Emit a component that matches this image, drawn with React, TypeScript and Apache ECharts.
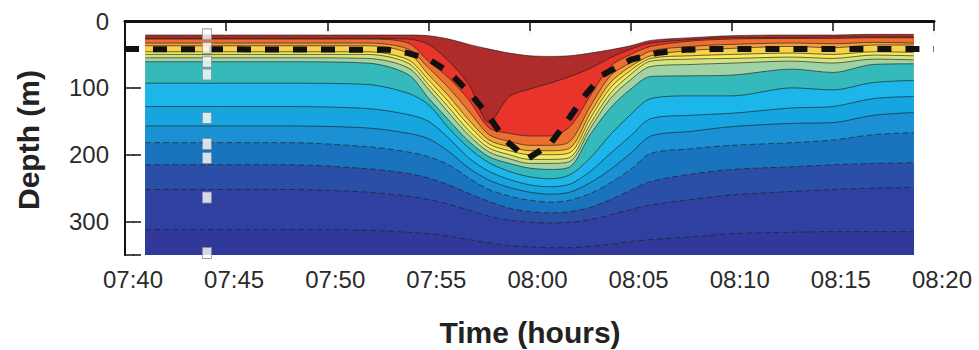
import React, { useEffect, useRef } from 'react';
import * as echarts from 'echarts';

// Tick labels of the time axis (minutes after 07:40, every 5 minutes)
const tickLabels = ['07:40', '07:45', '07:50', '07:55', '08:00', '08:05', '08:10', '08:15', '08:20'];

// Sample times of the contoured profiles (minutes after 07:40)
const times = [1, 8, 12, 14, 15, 16, 17, 18, 19, 20, 21, 22, 23, 24, 25, 26, 28, 30, 33, 35, 37, 39];

// Depth (m) of each contour line, from the warmest (top edge) to the coldest
const L0 = [21, 21, 21, 21, 22, 27, 35, 42, 48, 52, 53, 52, 48, 43, 37, 29, 25, 22, 21, 21, 20, 20];
const L1 = [26, 26, 26, 27, 35, 60, 95, 152, 113, 102, 93, 83, 71, 55, 42, 33, 28, 25, 25, 24, 24, 24];
const L2 = [27, 27, 27, 33, 60, 85, 118, 160, 168, 172, 172, 158, 112, 68, 50, 38, 30, 27, 26, 26, 25, 25];
const L3 = [33, 33, 33, 42, 70, 100, 135, 170, 180, 186, 186, 180, 128, 82, 62, 45, 38, 35, 33, 34, 32, 33];
const L4 = [37, 37, 37, 48, 80, 112, 148, 178, 188, 194, 194, 190, 138, 92, 68, 52, 44, 41, 38, 40, 36, 36];
const L5 = [46, 46, 46, 58, 88, 121, 156, 184, 194, 200, 200, 197, 146, 100, 74, 56, 52, 50, 48, 50, 46, 47];
const L6 = [50, 50, 50, 63, 95, 129, 164, 190, 200, 207, 207, 204, 154, 108, 80, 60, 57, 56, 54, 56, 51, 52];
const L7 = [55, 55, 56, 70, 102, 137, 171, 196, 206, 213, 213, 210, 161, 116, 88, 68, 65, 63, 60, 63, 57, 58];
const L8 = [61, 61, 63, 80, 115, 148, 180, 203, 213, 220, 222, 218, 170, 130, 102, 83, 82, 81, 72, 77, 65, 64];
const L9 = [93, 93, 95, 108, 125, 160, 190, 212, 225, 233, 236, 230, 205, 170, 140, 116, 112, 112, 100, 103, 92, 89];
const L10 = [128, 128, 131, 140, 150, 175, 205, 225, 237, 245, 248, 244, 225, 198, 172, 146, 141, 138, 130, 128, 116, 113];
const L11 = [157, 157, 160, 168, 176, 195, 220, 238, 249, 256, 259, 256, 242, 222, 198, 172, 165, 158, 153, 152, 141, 137];
const L12 = [182, 182, 188, 196, 203, 215, 235, 252, 262, 268, 271, 268, 258, 242, 222, 198, 191, 186, 182, 178, 170, 167];
const L13 = [215, 215, 221, 228, 235, 245, 258, 270, 280, 285, 287, 285, 279, 267, 253, 240, 229, 222, 218, 215, 213, 212];
const L14 = [252, 252, 256, 262, 267, 274, 283, 292, 298, 301, 302, 301, 297, 290, 282, 275, 267, 260, 255, 252, 250, 249];
const L15 = [312, 312, 313, 316, 318, 322, 327, 332, 336, 338, 339, 339, 337, 334, 330, 327, 323, 318, 316, 315, 315, 315];

const isolines = [L0, L1, L2, L3, L4, L5, L6, L7, L8, L9, L10, L11, L12, L13, L14, L15];

// Fill colour of the band below each contour line
const bandColors = [
  '#b02c2a', '#e9342c', '#ec6e30', '#f2a03c', '#f8d247', '#f4ec63', '#d5e37f', '#9fd3a5',
  '#35b9bb', '#1db6ea', '#17a5e0', '#1b90d2', '#1a73bd', '#2b4ea6', '#2f40a0', '#30399a',
];

// Dashed black line (depth of reference isotherm)
const dashTimes = [0, 13, 14, 15, 16, 17, 18, 18.8, 19.9, 21, 21.9, 22.7, 23.6, 25, 26.3, 27.7, 29, 40];
const dashDepths = [42, 43, 48, 57, 76, 106, 143, 178, 206, 185, 148, 113, 81, 58, 48, 43, 42, 42];

// Instrument positions on the mooring
const sensorTime = 4.05;
const sensorDepths = [20, 40, 61, 80, 145, 184, 205, 264, 347];

const FONT = '"Liberation Sans", Arial, Helvetica, sans-serif';

const X_RANGE = { type: 'value', min: 0, max: 40, interval: 5 };
const Y_RANGE = { type: 'value', inverse: true, min: 0, max: 350, interval: 100 };

// Axis used only to draw ticks pointing into the plot (offset inward, ticks outward)
function tickAxis(base: any, position: string, offset: number, length: number, color: string, width: number) {
  return {
    ...base,
    position,
    offset,
    z: 4,
    axisLine: { show: false },
    axisTick: { show: true, length, lineStyle: { color, width } },
    axisLabel: { show: false },
    splitLine: { show: false },
  };
}

export default function App() {
  const ref = useRef<HTMLDivElement>(null);

  useEffect(() => {
    if (!ref.current) return;
    const chart = echarts.init(ref.current, null, { renderer: 'svg' });

    const isoSeries = isolines.map((line, i) => ({
      type: 'line',
      data: times.map((t, j) => [t, line[j]]),
      showSymbol: false,
      smooth: 0.3,
      silent: true,
      lineStyle: {
        color: '#1e1e1e',
        width: 0.8,
        opacity: 0.8,
        type: i >= 12 ? [6, 3] : 'solid',
      },
      areaStyle: { color: bandColors[i], opacity: 1, origin: 'end' },
      z: 2,
    }));

    chart.setOption({
      animation: false,
      backgroundColor: '#fff',
      grid: { left: 125, right: 45, top: 21, bottom: 95, containLabel: false },
      xAxis: [
        {
          ...X_RANGE,
          position: 'bottom',
          z: 5,
          axisLine: { show: true, lineStyle: { color: '#111', width: 3 } },
          axisTick: { show: false },
          axisLabel: {
            show: true,
            formatter: (v: number) => tickLabels[Math.round(v / 5)] ?? '',
            fontSize: 24,
            fontFamily: FONT,
            color: '#2b2b2b',
            margin: 12,
            padding: [0, 0, 0, 16],
          },
          splitLine: { show: false },
        },
        {
          ...X_RANGE,
          position: 'top',
          z: 5,
          axisLine: { show: true, lineStyle: { color: '#111', width: 2 } },
          axisTick: { show: false },
          axisLabel: { show: false },
          splitLine: { show: false },
        },
        tickAxis(X_RANGE, 'bottom', -7, 7, 'rgba(235,235,235,0.9)', 1.5),
        tickAxis(X_RANGE, 'top', -10, 10, '#111', 1.5),
      ],
      yAxis: [
        {
          ...Y_RANGE,
          position: 'left',
          z: 5,
          axisLine: { show: true, lineStyle: { color: '#111', width: 2 } },
          axisTick: { show: false },
          axisLabel: {
            show: true,
            formatter: (v: number) => (v % 100 === 0 ? String(v) : ''),
            fontSize: 24,
            fontFamily: FONT,
            color: '#2b2b2b',
            margin: 16,
          },
          splitLine: { show: false },
        },
        {
          ...Y_RANGE,
          position: 'right',
          z: 5,
          axisLine: { show: true, lineStyle: { color: '#111', width: 2 } },
          axisTick: { show: false },
          axisLabel: { show: false },
          splitLine: { show: false },
        },
        tickAxis(Y_RANGE, 'left', -9, 9, '#111', 1.5),
        tickAxis(Y_RANGE, 'right', -8, 8, '#111', 1.5),
      ],
      graphic: [
        {
          type: 'text',
          x: 530,
          y: 332,
          silent: true,
          style: {
            text: 'Time (hours)',
            font: `bold 30px ${FONT}`,
            fill: '#222',
            align: 'center',
            verticalAlign: 'middle',
          },
        },
        {
          type: 'text',
          x: 28,
          y: 140,
          rotation: Math.PI / 2,
          silent: true,
          style: {
            text: 'Depth (m)',
            font: `bold 30px ${FONT}`,
            fill: '#222',
            align: 'center',
            verticalAlign: 'middle',
          },
        },
      ],
      series: [
        ...isoSeries,
        {
          type: 'line',
          data: dashTimes.map((t, i) => [t, dashDepths[i]]),
          showSymbol: false,
          silent: true,
          clip: false,
          lineStyle: { color: '#111', width: 6, type: [14, 14], cap: 'butt' },
          z: 6,
        },
        {
          type: 'scatter',
          data: sensorDepths.map((d) => [sensorTime, d]),
          symbol: 'rect',
          symbolSize: [9, 11],
          silent: true,
          clip: false,
          itemStyle: { color: '#ffffff', borderColor: '#8a8a8a', borderWidth: 1 },
          z: 7,
        },
      ],
    });

    return () => chart.dispose();
  }, []);

  return <div ref={ref} style={{ position: 'fixed', left: 0, top: 0, width: 979, height: 350 }} />;
}
